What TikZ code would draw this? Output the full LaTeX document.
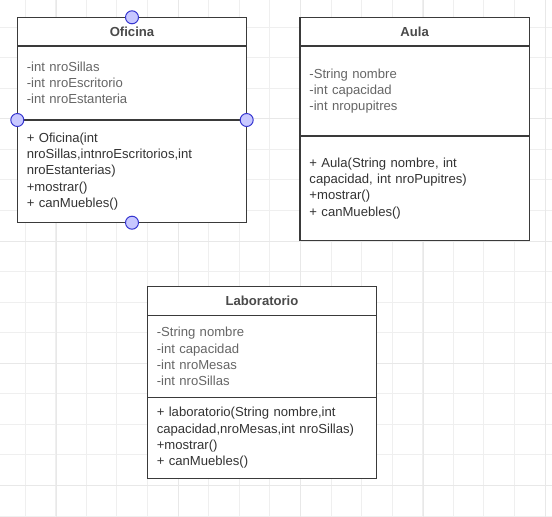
\documentclass[tikz,border=0pt]{standalone}
\usepackage{fontspec}
\setmainfont{Liberation Sans}
\usetikzlibrary{positioning}
\definecolor{gridminor}{HTML}{EFEFEF}
\definecolor{gridmajor}{HTML}{E8E8E8}
\definecolor{boxline}{HTML}{3A3A3A}
\definecolor{titletext}{HTML}{4A4A4A}
\definecolor{attrtext}{HTML}{666666}
\definecolor{methtext}{HTML}{333333}
\definecolor{handleline}{HTML}{3535D0}
\definecolor{handlefill}{HTML}{C8C8FF}
\begin{document}
\begin{tikzpicture}[x=1pt, y=-1pt,
    font=\fontsize{13.1}{16.3}\selectfont,
    classbox/.style={rectangle,draw=boxline,fill=white,line width=1.2pt,outer sep=0pt,inner xsep=9.5pt,inner ysep=0pt,text width=210.4pt},
    classname/.style={classbox,align=center,text=titletext,font=\fontsize{13.1}{16.3}\selectfont\bfseries,minimum height=28.7pt},
    fields/.style={classbox,align=left,text=attrtext},
    operations/.style={classbox,align=left,text=methtext},
    handle/.style={circle,draw=handleline,fill=handlefill,line width=1pt,minimum size=13pt,inner sep=0pt}]
    \useasboundingbox (0,0) rectangle (552,517);
    % grid
    \foreach \k in {0,...,17} \draw[gridminor, line width=0.8pt] (25+30.59*\k,0) -- (25+30.59*\k,517);
    \foreach \k in {0,...,16} \draw[gridminor, line width=0.8pt] (0,27+30.56*\k) -- (552,27+30.56*\k);
    \foreach \gx in {56,178,300,423,545} \draw[gridmajor, line width=1pt] (\gx,0) -- (\gx,517);
    \foreach \gy in {118.7,241,363,485} \draw[gridmajor, line width=1pt] (0,\gy) -- (552,\gy);
    % Oficina
    \node[classname] (ofiName) at (132,31.65) {Oficina};
    \node[fields, minimum height=74pt, below=0pt of ofiName] (ofiFields) {-int nroSillas\\-int nroEscritorio\\-int nroEstanteria};
    \node[operations, minimum height=102.7pt, below=0pt of ofiFields] (ofiOps) {+ Oficina(int\\nroSillas,intnroEscritorios,int\\nroEstanterias)\\+mostrar()\\+ canMuebles()};
    % Aula
    \node[classname] (aulaName) at (414.65,31.65) {Aula};
    \node[fields, minimum height=90pt, below=0pt of aulaName] (aulaFields) {-String nombre\\-int capacidad\\-int nropupitres};
    \node[operations, minimum height=104.7pt, below=0pt of aulaFields] (aulaOps) {+ Aula(String nombre, int\\capacidad, int nroPupitres)\\+mostrar()\\+ canMuebles()};
    % Laboratorio
    \node[classname, minimum height=29pt] (labName) at (262,301.2) {Laboratorio};
    \node[fields, minimum height=82pt, below=0pt of labName] (labFields) {-String nombre\\-int capacidad\\-int nroMesas\\-int nroSillas};
    \node[operations, minimum height=80.6pt, below=0pt of labFields] (labOps) {+ laboratorio(String nombre,int\\capacidad,nroMesas,int nroSillas)\\+mostrar()\\+ canMuebles()};
    % selection handles
    \node[handle] (hTop) at (ofiName.north) {};
    \node[handle] (hLeft) at (ofiOps.north west) {};
    \node[handle] (hRight) at (ofiOps.north east) {};
    \node[handle] (hBottom) at (ofiOps.south) {};
\end{tikzpicture}
\end{document}
